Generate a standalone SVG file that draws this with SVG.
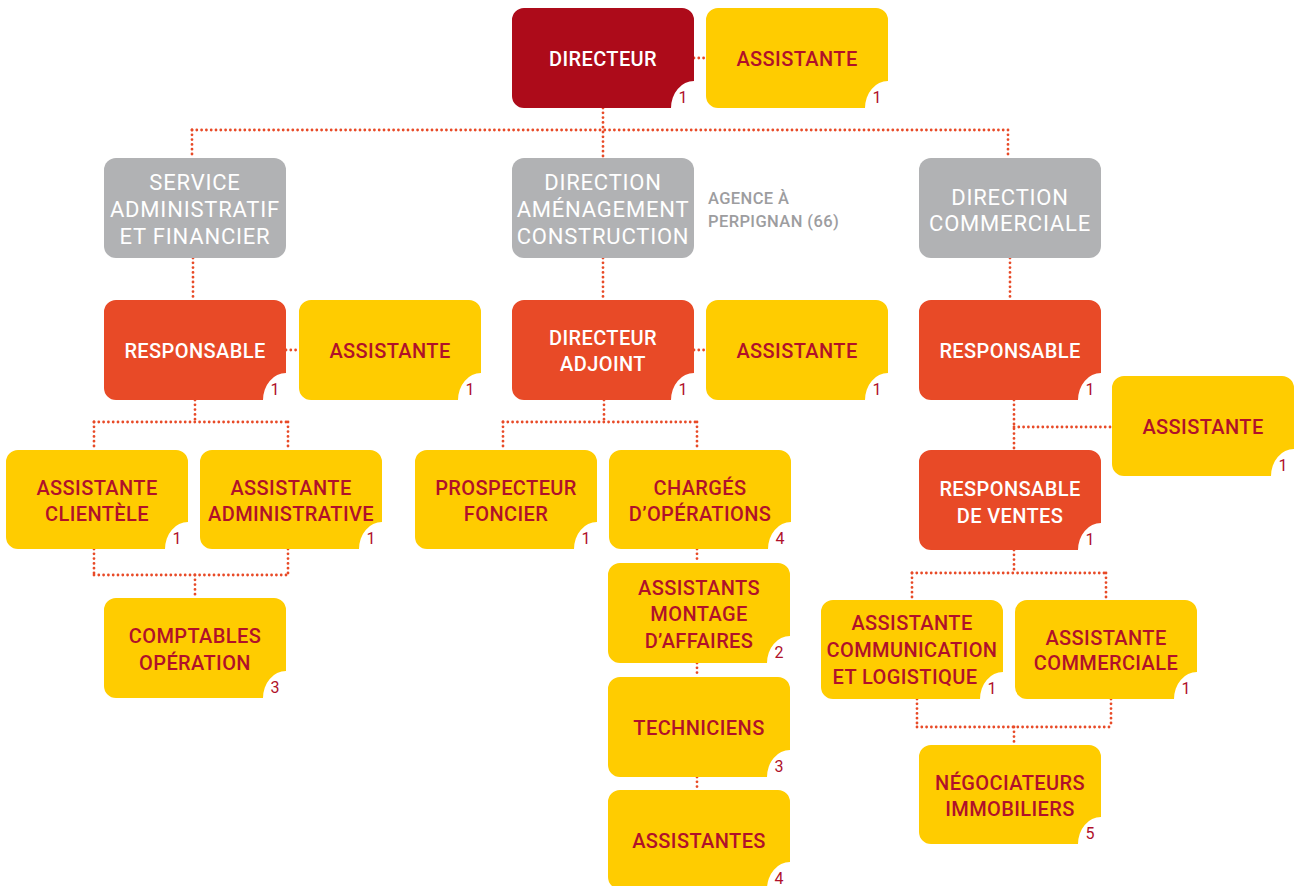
<svg xmlns="http://www.w3.org/2000/svg" width="1295" height="886" viewBox="0 0 1295 886">
<style>
.dot{fill:none;stroke:#e84a27;stroke-width:2.8;stroke-linecap:round;stroke-dasharray:0 4.8}
.dred{fill:#ad0b1a}
.org{fill:#e84a27}
.yel{fill:#ffcc00}
.gry{fill:#b1b2b4}
text{font-family:Roboto,"Liberation Sans",sans-serif;text-anchor:middle}
.tw{fill:#ffffff;font-size:20px;font-weight:500;letter-spacing:0.4px}
.tr{fill:#b0112a;font-size:20px;font-weight:500;letter-spacing:0.4px}
.tg{fill:#ffffff;font-size:22px;font-weight:400;letter-spacing:0.8px}
.num{fill:#b0112a;font-size:16px;font-weight:400}
.ag{fill:#9d9d9f;font-size:16.5px;font-weight:500;text-anchor:start;letter-spacing:0.4px}
</style>
<rect width="1295" height="886" fill="#ffffff"/>
<g id="connectors">
<path class="dot" d="M603,108 V158"/>
<path class="dot" d="M192,130 H1008"/>
<path class="dot" d="M192,130 V158"/>
<path class="dot" d="M1008,130 V158"/>
<path class="dot" d="M694,58 H706"/>
<path class="dot" d="M193,258 V300"/>
<path class="dot" d="M603,258 V300"/>
<path class="dot" d="M1010,258 V300"/>
<path class="dot" d="M286,350 H299"/>
<path class="dot" d="M694,350 H706"/>
<path class="dot" d="M195,400 V422"/>
<path class="dot" d="M94,422 H288"/>
<path class="dot" d="M94,422 V450"/>
<path class="dot" d="M288,422 V450"/>
<path class="dot" d="M94,549 V575"/>
<path class="dot" d="M288,549 V575"/>
<path class="dot" d="M94,575 H288"/>
<path class="dot" d="M195,575 V598"/>
<path class="dot" d="M604,400 V422"/>
<path class="dot" d="M503,422 H697"/>
<path class="dot" d="M503,422 V450"/>
<path class="dot" d="M697,422 V450"/>
<path class="dot" d="M697,549 V563"/>
<path class="dot" d="M697,663 V677"/>
<path class="dot" d="M697,777 V790"/>
<path class="dot" d="M1014,400 V450"/>
<path class="dot" d="M1014,427 H1112"/>
<path class="dot" d="M1014,550 V573"/>
<path class="dot" d="M912,573 H1106"/>
<path class="dot" d="M912,573 V600"/>
<path class="dot" d="M1106,573 V600"/>
<path class="dot" d="M917,699 V727"/>
<path class="dot" d="M1111,699 V727"/>
<path class="dot" d="M917,727 H1111"/>
<path class="dot" d="M1014,727 V745"/>
</g>

<g id="directeur">
<path class="dred" d="M524,8 H682 A12,12 0 0 1 694,20 V81 A23,27 0 0 0 671,108 H524 A12,12 0 0 1 512,96 V20 A12,12 0 0 1 524,8 Z"/>
<text class="tw" x="603" y="66">DIRECTEUR</text>
<text class="num" x="683" y="103">1</text>
</g>
<g id="assistante-direction">
<path class="yel" d="M718,8 H876 A12,12 0 0 1 888,20 V81 A23,27 0 0 0 865,108 H718 A12,12 0 0 1 706,96 V20 A12,12 0 0 1 718,8 Z"/>
<text class="tr" x="797" y="66">ASSISTANTE</text>
<text class="num" x="877" y="103">1</text>
</g>

<g id="service-admin">
<rect class="gry" x="104" y="158" width="182" height="100" rx="12"/>
<text class="tg" x="195" y="190">SERVICE</text>
<text class="tg" x="195" y="217">ADMINISTRATIF</text>
<text class="tg" x="195" y="244">ET FINANCIER</text>
</g>
<g id="direction-amenagement">
<rect class="gry" x="512" y="158" width="182" height="100" rx="12"/>
<text class="tg" x="603" y="190">DIRECTION</text>
<text class="tg" x="603" y="217">AMÉNAGEMENT</text>
<text class="tg" x="603" y="244">CONSTRUCTION</text>
</g>
<g id="agence">
<text class="ag" x="708" y="204">AGENCE À</text>
<text class="ag" x="708" y="227">PERPIGNAN (66)</text>
</g>
<g id="direction-commerciale">
<rect class="gry" x="919" y="158" width="182" height="100" rx="12"/>
<text class="tg" x="1010" y="205">DIRECTION</text>
<text class="tg" x="1010" y="231">COMMERCIALE</text>
</g>

<g id="responsable-saf">
<path class="org" d="M116,300 H274 A12,12 0 0 1 286,312 V373 A23,27 0 0 0 263,400 H116 A12,12 0 0 1 104,388 V312 A12,12 0 0 1 116,300 Z"/>
<text class="tw" x="195" y="358">RESPONSABLE</text>
<text class="num" x="275" y="395">1</text>
</g>
<g id="assistante-saf">
<path class="yel" d="M311,300 H469 A12,12 0 0 1 481,312 V373 A23,27 0 0 0 458,400 H311 A12,12 0 0 1 299,388 V312 A12,12 0 0 1 311,300 Z"/>
<text class="tr" x="390" y="358">ASSISTANTE</text>
<text class="num" x="470" y="395">1</text>
</g>
<g id="directeur-adjoint">
<path class="org" d="M524,300 H682 A12,12 0 0 1 694,312 V373 A23,27 0 0 0 671,400 H524 A12,12 0 0 1 512,388 V312 A12,12 0 0 1 524,300 Z"/>
<text class="tw" x="603" y="345">DIRECTEUR</text>
<text class="tw" x="603" y="371">ADJOINT</text>
<text class="num" x="683" y="395">1</text>
</g>
<g id="assistante-dac">
<path class="yel" d="M718,300 H876 A12,12 0 0 1 888,312 V373 A23,27 0 0 0 865,400 H718 A12,12 0 0 1 706,388 V312 A12,12 0 0 1 718,300 Z"/>
<text class="tr" x="797" y="358">ASSISTANTE</text>
<text class="num" x="877" y="395">1</text>
</g>
<g id="responsable-com">
<path class="org" d="M931,300 H1089 A12,12 0 0 1 1101,312 V373 A23,27 0 0 0 1078,400 H931 A12,12 0 0 1 919,388 V312 A12,12 0 0 1 931,300 Z"/>
<text class="tw" x="1010" y="358">RESPONSABLE</text>
<text class="num" x="1090" y="395">1</text>
</g>
<g id="assistante-com">
<path class="yel" d="M1124,376 H1282 A12,12 0 0 1 1294,388 V449 A23,27 0 0 0 1271,476 H1124 A12,12 0 0 1 1112,464 V388 A12,12 0 0 1 1124,376 Z"/>
<text class="tr" x="1203" y="434">ASSISTANTE</text>
<text class="num" x="1283" y="471">1</text>
</g>

<g id="assistante-clientele">
<path class="yel" d="M18,450 H176 A12,12 0 0 1 188,462 V522 A23,27 0 0 0 165,549 H18 A12,12 0 0 1 6,537 V462 A12,12 0 0 1 18,450 Z"/>
<text class="tr" x="97" y="495">ASSISTANTE</text>
<text class="tr" x="97" y="521">CLIENTÈLE</text>
<text class="num" x="177" y="544">1</text>
</g>
<g id="assistante-administrative">
<path class="yel" d="M212,450 H370 A12,12 0 0 1 382,462 V522 A23,27 0 0 0 359,549 H212 A12,12 0 0 1 200,537 V462 A12,12 0 0 1 212,450 Z"/>
<text class="tr" x="291" y="495">ASSISTANTE</text>
<text class="tr" x="291" y="521">ADMINISTRATIVE</text>
<text class="num" x="371" y="544">1</text>
</g>
<g id="comptables">
<path class="yel" d="M116,598 H274 A12,12 0 0 1 286,610 V671 A23,27 0 0 0 263,698 H116 A12,12 0 0 1 104,686 V610 A12,12 0 0 1 116,598 Z"/>
<text class="tr" x="195" y="643">COMPTABLES</text>
<text class="tr" x="195" y="670">OPÉRATION</text>
<text class="num" x="275" y="693">3</text>
</g>

<g id="prospecteur">
<path class="yel" d="M427,450 H585 A12,12 0 0 1 597,462 V522 A23,27 0 0 0 574,549 H427 A12,12 0 0 1 415,537 V462 A12,12 0 0 1 427,450 Z"/>
<text class="tr" x="506" y="495">PROSPECTEUR</text>
<text class="tr" x="506" y="521">FONCIER</text>
<text class="num" x="586" y="544">1</text>
</g>
<g id="charges-operations">
<path class="yel" d="M621,450 H779 A12,12 0 0 1 791,462 V522 A23,27 0 0 0 768,549 H621 A12,12 0 0 1 609,537 V462 A12,12 0 0 1 621,450 Z"/>
<text class="tr" x="700" y="495">CHARGÉS</text>
<text class="tr" x="700" y="521">D’OPÉRATIONS</text>
<text class="num" x="780" y="544">4</text>
</g>
<g id="assistants-montage">
<path class="yel" d="M620,563 H778 A12,12 0 0 1 790,575 V636 A23,27 0 0 0 767,663 H620 A12,12 0 0 1 608,651 V575 A12,12 0 0 1 620,563 Z"/>
<text class="tr" x="699" y="595">ASSISTANTS</text>
<text class="tr" x="699" y="621">MONTAGE</text>
<text class="tr" x="699" y="648">D’AFFAIRES</text>
<text class="num" x="779" y="658">2</text>
</g>
<g id="techniciens">
<path class="yel" d="M620,677 H778 A12,12 0 0 1 790,689 V750 A23,27 0 0 0 767,777 H620 A12,12 0 0 1 608,765 V689 A12,12 0 0 1 620,677 Z"/>
<text class="tr" x="699" y="735">TECHNICIENS</text>
<text class="num" x="779" y="772">3</text>
</g>
<g id="assistantes">
<path class="yel" d="M620,790 H778 A12,12 0 0 1 790,802 V862 A23,27 0 0 0 767,889 H620 A12,12 0 0 1 608,877 V802 A12,12 0 0 1 620,790 Z"/>
<text class="tr" x="699" y="848">ASSISTANTES</text>
<text class="num" x="779" y="884">4</text>
</g>

<g id="responsable-ventes">
<path class="org" d="M931,450 H1089 A12,12 0 0 1 1101,462 V523 A23,27 0 0 0 1078,550 H931 A12,12 0 0 1 919,538 V462 A12,12 0 0 1 931,450 Z"/>
<text class="tw" x="1010" y="496">RESPONSABLE</text>
<text class="tw" x="1010" y="523">DE VENTES</text>
<text class="num" x="1090" y="545">1</text>
</g>
<g id="assistante-communication">
<path class="yel" d="M833,600 H991 A12,12 0 0 1 1003,612 V672 A23,27 0 0 0 980,699 H833 A12,12 0 0 1 821,687 V612 A12,12 0 0 1 833,600 Z"/>
<text class="tr" x="912" y="630">ASSISTANTE</text>
<text class="tr" x="912" y="657">COMMUNICATION</text>
<text class="tr" x="905" y="684">ET LOGISTIQUE</text>
<text class="num" x="992" y="694">1</text>
</g>
<g id="assistante-commerciale">
<path class="yel" d="M1027,600 H1185 A12,12 0 0 1 1197,612 V672 A23,27 0 0 0 1174,699 H1027 A12,12 0 0 1 1015,687 V612 A12,12 0 0 1 1027,600 Z"/>
<text class="tr" x="1106" y="645">ASSISTANTE</text>
<text class="tr" x="1106" y="670">COMMERCIALE</text>
<text class="num" x="1186" y="694">1</text>
</g>
<g id="negociateurs">
<path class="yel" d="M931,745 H1089 A12,12 0 0 1 1101,757 V817 A23,27 0 0 0 1078,844 H931 A12,12 0 0 1 919,832 V757 A12,12 0 0 1 931,745 Z"/>
<text class="tr" x="1010" y="790">NÉGOCIATEURS</text>
<text class="tr" x="1010" y="816">IMMOBILIERS</text>
<text class="num" x="1090" y="839">5</text>
</g>
</svg>
